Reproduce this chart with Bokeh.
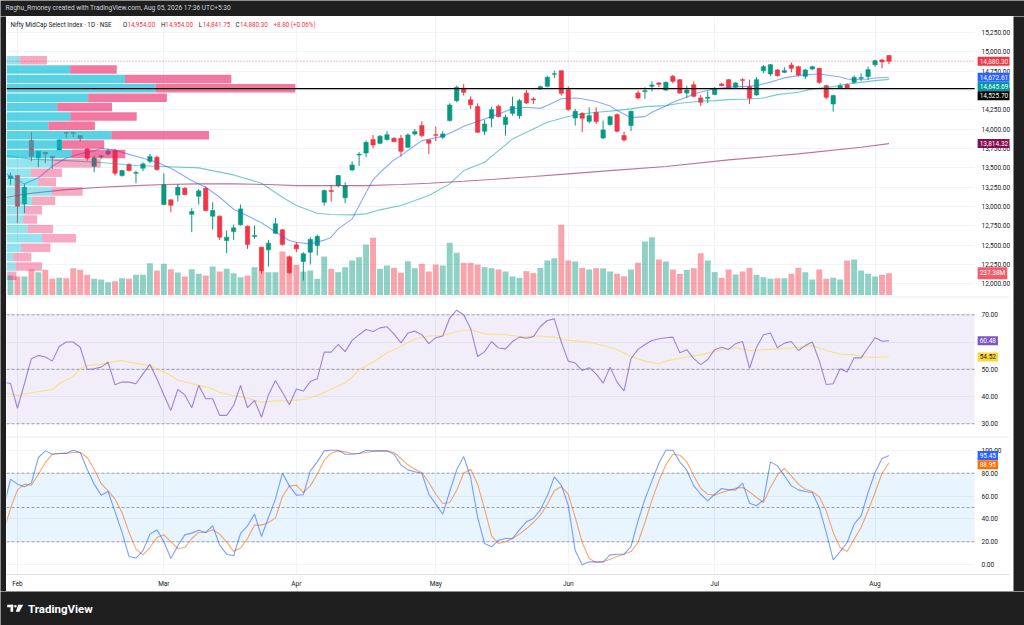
import numpy as np
from bokeh.plotting import figure
from bokeh.models import Range1d, FixedTicker, NumeralTickFormatter, Span, BoxAnnotation, Label
from bokeh.layouts import column, row
from bokeh.embed import file_html
from bokeh.resources import INLINE
from bokeh.core.properties import value

# ---------------- data ----------------
header_text = "Raghu_Rmoney created with TradingView.com, Aug 05, 2026 17:36 UTC+5:30"
title_text = "Nifty MidCap Select Index \u00b7 1D \u00b7 NSE"
month_index = [1, 22, 41, 61, 80, 101, 124]
month_labels = ["Feb", "Mar", "Apr", "May", "Jun", "Jul", "Aug"]
price_ticks = [12000, 12250, 12500, 12750, 13000, 13250, 13500, 13750, 14000, 14250, 14500, 14750, 15000, 15250]
rsi_ticks = [30, 40, 50, 60, 70]
stoch_ticks = [0, 20, 40, 60, 80, 100]

open_ = [13361, 13400, 13034, 13853, 13629, 13702, 13646, 13732, 13957, 13957,
         13918, 13745, 13521, 13646, 13680, 13724, 13400, 13543, 13430, 13495,
         13586, 13637, 13025, 13086, 13150, 13237, 12900, 13133, 13237, 12875,
         12875, 12560, 12676, 12763, 12745, 12612, 12474, 12439, 12655, 12698,
         12345, 12504, 12289, 12409, 12495, 13056, 13206, 13271, 13112, 13474,
         13668, 13693, 13866, 13818, 13866, 13883, 13883, 13767, 13939, 14047,
         13862, 13930, 13896, 14112, 14370, 14530, 14383, 14293, 13974, 14142,
         14297, 14060, 14206, 14176, 14469, 14392, 14521, 14555, 14711, 14758,
         14512, 14146, 14206, 14103, 14219, 13887, 14060, 14189, 13918, 14047,
         14469, 14487, 14555, 14599, 14508, 14685, 14642, 14469, 14577, 14405,
         14400, 14448, 14586, 14642, 14543, 14642, 14551, 14443, 14758, 14715,
         14767, 14737, 14831, 14810, 14685, 14780, 14788, 14564, 14327, 14534,
         14577, 14607, 14659, 14681, 14836, 14896, 14954]
high_ = [13439, 13409, 13293, 13961, 13715, 13705, 13650, 13870, 13960, 13960,
         13920, 13758, 13659, 13672, 13745, 13745, 13474, 13560, 13465, 13573,
         13680, 13659, 13430, 13090, 13293, 13249, 12978, 13228, 13262, 13056,
         12883, 12689, 12767, 13025, 12754, 12754, 12478, 12569, 12853, 12711,
         12366, 12539, 12409, 12603, 12638, 13219, 13280, 13409, 13314, 13586,
         13702, 13853, 13926, 13926, 13974, 13896, 13926, 13948, 14004, 14103,
         13874, 14034, 13974, 14336, 14564, 14586, 14426, 14336, 14124, 14293,
         14318, 14189, 14422, 14392, 14508, 14413, 14564, 14693, 14758, 14760,
         14555, 14262, 14219, 14284, 14284, 14112, 14176, 14206, 13969, 14241,
         14499, 14543, 14620, 14607, 14620, 14702, 14650, 14564, 14620, 14443,
         14491, 14543, 14599, 14650, 14607, 14659, 14642, 14672, 14831, 14844,
         14780, 14801, 14866, 14823, 14780, 14823, 14793, 14577, 14448, 14594,
         14594, 14693, 14724, 14810, 14900, 14909, 14954]
low_ = [13284, 12784, 12913, 13586, 13508, 13560, 13487, 13724, 13883, 13896,
        13840, 13594, 13443, 13616, 13659, 13400, 13387, 13456, 13301, 13456,
        13560, 13465, 13020, 12926, 13064, 13150, 12668, 13025, 12939, 12702,
        12569, 12396, 12569, 12754, 12452, 12582, 12129, 12224, 12646, 12495,
        12129, 12409, 12043, 12250, 12366, 13012, 13064, 13249, 13043, 13456,
        13525, 13637, 13754, 13810, 13853, 13831, 13646, 13758, 13918, 13896,
        13680, 13844, 13874, 14099, 14349, 14435, 14262, 13952, 13926, 14025,
        14155, 13918, 14176, 14133, 14327, 14327, 14508, 14543, 14663, 14435,
        14241, 14047, 13961, 14077, 14068, 13874, 14047, 13961, 13840, 13974,
        14383, 14392, 14491, 14543, 14491, 14594, 14456, 14405, 14413, 14297,
        14340, 14443, 14555, 14521, 14534, 14521, 14327, 14435, 14728, 14685,
        14681, 14728, 14737, 14681, 14650, 14767, 14586, 14392, 14228, 14521,
        14521, 14586, 14620, 14637, 14810, 14788, 14841.75]
close_ = [13396, 13004, 13249, 13650, 13711, 13680, 13629, 13862, 13948, 13948,
          13883, 13624, 13629, 13655, 13715, 13430, 13465, 13465, 13439, 13551,
          13646, 13478, 13280, 13017, 13249, 13155, 12935, 13202, 12948, 12948,
          12603, 12603, 12724, 12969, 12508, 12625, 12164, 12526, 12776, 12508,
          12142, 12452, 12388, 12573, 12612, 13206, 13193, 13400, 13271, 13538,
          13676, 13831, 13797, 13909, 13930, 13840, 13715, 13926, 13969, 13918,
          13818, 13922, 13939, 14314, 14543, 14478, 14318, 13961, 14068, 14254,
          14163, 14155, 14293, 14370, 14340, 14379, 14551, 14672, 14719, 14465,
          14254, 14232, 14142, 14176, 14099, 13991, 14163, 13974, 13862, 14232,
          14405, 14499, 14573, 14581, 14607, 14620, 14469, 14508, 14426, 14349,
          14413, 14530, 14564, 14530, 14599, 14633, 14400, 14642, 14810, 14836,
          14693, 14758, 14788, 14702, 14767, 14810, 14607, 14413, 14435, 14564,
          14530, 14672, 14668, 14771, 14887, 14871.5, 14880.3]
volume_m = [212, 202, 202, 278, 248, 274, 176, 187, 183, 292,
            274, 220, 176, 169, 140, 150, 183, 176, 220, 220,
            347, 267, 340, 281, 245, 202, 281, 231, 212, 310,
            256, 285, 238, 194, 212, 303, 256, 248, 248, 474,
            423, 329, 255, 267, 176, 419, 285, 249, 303, 376,
            412, 550, 623, 285, 321, 296, 242, 368, 292, 340,
            256, 332, 321, 568, 460, 351, 351, 332, 303, 292,
            278, 256, 202, 187, 260, 238, 296, 376, 401, 765,
            376, 365, 296, 278, 292, 290, 256, 231, 205, 278,
            351, 583, 630, 387, 365, 278, 231, 274, 292, 456,
            376, 249, 187, 278, 223, 256, 296, 220, 194, 176,
            183, 183, 231, 296, 249, 169, 278, 176, 187, 169,
            376, 387, 267, 231, 202, 220, 237.38]

# visible-range volume profile, rows from top (high) to bottom (low), millions
vp_up_m = [223, 1075, 1999, 2515, 1378, 857, 1075, 706, 1769, 936, 1092, 795,
           415, 533, 768, 432, 307, 281, 358, 600, 247, 113, 151, 22]
vp_down_m = [459, 785, 1793, 2357, 1327, 924, 1121, 785, 1646, 711, 912, 795,
             521, 302, 516, 391, 291, 235, 425, 571, 492, 307, 449, 146]

level_line = 14525.70

sma_fast_x = [-1, 2, 4, 6, 8, 10, 12, 13, 15, 17, 19, 21, 23, 24, 26, 28, 30, 32, 34, 36, 38,
              40, 41, 43, 45, 46, 47, 49, 50, 51, 52, 53, 55, 56, 58, 59, 60, 62, 64, 65, 67,
              68, 70, 72, 74, 76, 77, 79, 81, 82, 84, 86, 87, 89, 91, 92, 94, 95, 97, 98, 100,
              101, 102, 104, 105, 107, 109, 110, 111, 113, 114, 116, 117, 119, 120, 121, 123, 124, 126]
sma_fast_v = [13440, 13293, 13371, 13521, 13629, 13681, 13720, 13754, 13730, 13675, 13625, 13573, 13495, 13443, 13336,
              13249, 13120, 12965, 12880, 12790, 12670, 12560, 12538, 12517, 12565, 12603, 12711, 12840, 13011, 13180,
              13345, 13440, 13603, 13659, 13790, 13853, 13870, 13910, 13990, 14040, 14100, 14133, 14198, 14265, 14284,
              14270, 14306, 14395, 14405, 14395, 14360, 14300, 14241, 14150, 14163, 14219, 14300, 14349, 14415, 14456,
              14505, 14521, 14534, 14551, 14551, 14564, 14610, 14638, 14665, 14694, 14705, 14715, 14702, 14675, 14651,
              14640, 14651, 14664, 14672.61]
sma_slow_x = [-1, 3, 8, 13, 18, 22, 27, 32, 36, 39, 41, 44, 46, 49, 51, 53, 56, 58, 60, 63, 65, 68, 70, 72,
              75, 77, 80, 82, 84, 86, 89, 91, 94, 96, 99, 101, 103, 106, 108, 110, 113, 115, 118, 120, 122, 124, 126]
sma_slow_v = [13665, 13612, 13594, 13569, 13530, 13517, 13500, 13409, 13301, 13120, 13012, 12913, 12896, 12892,
              12905, 12957, 13013, 13077, 13142, 13293, 13465, 13573, 13724, 13875, 14004, 14090, 14164, 14198,
              14219, 14235, 14263, 14293, 14306, 14336, 14362, 14370, 14383, 14392, 14405, 14448, 14478, 14521,
              14551, 14586, 14607, 14629, 14645.69]
sma200_x = [-1, 3, 8, 13, 18, 22, 27, 32, 37, 41, 51, 56, 60, 65, 70, 75, 80, 86, 94, 103, 113, 122, 126]
sma200_v = [13115, 13172, 13219, 13250, 13271, 13284, 13293, 13293, 13284, 13271, 13271, 13284, 13301, 13327,
            13357, 13388, 13422, 13465, 13517, 13603, 13681, 13767, 13814.32]

rsi_v = [45.2, 44.8, 35.7, 44.7, 53.9, 55.1, 54.5, 53.0, 58.4, 60.0, 60.0,
         58.1, 49.9, 50.2, 50.8, 52.6, 44.3, 45.3, 45.3, 44.7, 48.3,
         51.8, 46.5, 40.6, 34.9, 42.6, 40.6, 35.9, 44.1, 39.2, 39.2,
         33.1, 33.1, 36.7, 44.1, 35.9, 38.6, 32.4, 40.6, 45.9, 41.6,
         37.0, 42.8, 42.0, 45.5, 46.5, 56.3, 56.3, 59.1, 56.5, 60.6,
         62.7, 64.6, 63.9, 65.2, 65.6, 63.0, 59.7, 63.3, 64.0, 62.7,
         59.4, 61.6, 62.2, 68.8, 71.7, 70.0, 64.9, 54.7, 56.5, 60.2,
         57.8, 57.5, 60.2, 61.8, 61.4, 62.0, 65.7, 67.9, 68.5, 60.0,
         53.0, 52.3, 49.6, 50.6, 48.3, 44.9, 50.8, 45.3, 42.1, 53.9,
         57.3, 59.1, 60.6, 61.2, 61.6, 61.8, 56.1, 57.2, 53.9, 51.7,
         53.6, 57.2, 58.1, 57.3, 59.4, 60.2, 50.4, 58.1, 62.7, 63.3,
         57.9, 59.6, 60.2, 56.9, 58.7, 60.0, 53.2, 44.4, 44.7, 50.2,
         49.0, 54.2, 54.2, 57.9, 61.6, 60.3, 60.48]
rsi_ma_x = [-1, 1, 3, 6, 7, 9, 10, 11, 13, 14, 16, 17, 19, 20, 21, 23, 24, 26, 27, 29, 30, 32, 34, 36, 38,
            40, 42, 44, 46, 48, 49, 50, 52, 54, 56, 58, 60, 62, 64, 66, 68, 71, 73, 76, 78, 80, 83, 85, 87,
            89, 91, 93, 94, 97, 99, 102, 104, 106, 109, 112, 115, 117, 119, 121, 123, 126]
rsi_ma_v = [41.5, 40.4, 41.4, 42.6, 44.7, 47.4, 50.2, 51.4, 51.8, 52.6, 53.2, 52.6, 51.8, 51.4, 50.2, 47.7,
            46.1, 44.7, 44.1, 42.8, 41.6, 40.4, 39.4, 37.9, 38.4, 38.5, 38.9, 40.4, 42.8, 45.0, 47.1, 49.9,
            52.6, 56.1, 58.5, 61.2, 62.2, 62.4, 63.9, 64.5, 63.0, 62.7, 62.0, 62.2, 61.8, 60.6, 60.0, 58.7,
            57.3, 54.7, 53.0, 52.0, 53.0, 54.5, 55.3, 57.3, 57.9, 56.9, 57.3, 57.8, 58.7, 56.9, 55.6, 55.3,
            54.4, 54.52]
stoch_k = [49, 74.8, 70.4, 68.1, 71.3, 93.7, 99.5, 96.6, 97.2, 97.5, 100,
           98.1, 83.5, 70.4, 60.8, 64.0, 46.2, 28.2, 7.2, 5.8, 12.2,
           26.7, 30.5, 20.3, 5.4, 16.5, 26.1, 27.6, 30.2, 28.2, 34.0,
           17.1, 9.2, 7.8, 27.3, 34.0, 44.2, 24.7, 41.3, 57.3, 80.0,
           68.9, 60.8, 61.1, 82.0, 89.9, 99.5, 100, 100, 96.6, 96.6,
           97.2, 100, 99.5, 99.5, 99.5, 96.6, 87.3, 82.9, 81.2, 80.0,
           61.6, 52.9, 44.2, 64.0, 83.0, 94.6, 76.2, 41.3, 18.5, 15.6,
           21.4, 22.9, 22.9, 30.5, 37.5, 40.4, 48.0, 60.2, 76.8, 69.5,
           52.0, 12.1, 0.0, 2.5, 2.5, 2.5, 8.6, 9.2, 9.2, 15.9,
           38.3, 57.3, 73.3, 88.7, 100, 100, 89.9, 82.6, 68.9, 61.6,
           55.8, 61.6, 66.6, 65.4, 65.4, 71.3, 53.8, 51.5, 56.4, 89.9,
           86.4, 77.7, 68.9, 65.4, 64.0, 63.1, 50.0, 28.2, 4.3, 11.5,
           19.4, 35.4, 42.7, 63.1, 80.6, 92.8, 95.45]
stoch_d = [29, 49.1, 65.4, 70.4, 69.5, 79.1, 89.3, 96.6, 97.2, 97.2, 98.1,
           98.1, 93.7, 83.5, 71.0, 64.6, 57.3, 45.6, 28.2, 13.6, 8.6,
           15.0, 23.8, 26.1, 20.0, 14.2, 15.0, 22.9, 28.2, 28.2, 30.5,
           26.7, 20.0, 11.5, 14.5, 22.9, 34.6, 34.6, 36.9, 40.7, 59.6,
           68.9, 69.5, 63.1, 68.9, 79.1, 91.4, 97.5, 99.5, 98.6, 97.2,
           97.2, 98.1, 98.9, 99.5, 99.5, 98.1, 92.8, 87.3, 83.5, 80.6,
           71.8, 61.6, 53.5, 54.4, 65.0, 80.0, 83.5, 70.4, 48.5, 25.2,
           18.5, 20.0, 22.9, 26.7, 31.6, 36.9, 43.3, 52.9, 64.6, 68.3,
           61.6, 41.3, 19.4, 5.4, 1.9, 2.5, 4.8, 7.2, 9.2, 11.5,
           19.4, 36.9, 56.4, 73.3, 87.3, 96.6, 95.7, 89.9, 77.7, 66.6,
           61.6, 60.8, 63.1, 65.1, 66.9, 67.5, 63.7, 58.7, 54.4, 67.5,
           78.5, 84.1, 77.7, 70.4, 66.0, 64.0, 59.3, 47.1, 28.2, 15.0,
           11.5, 22.3, 32.5, 47.1, 63.1, 79.7, 88.95]

# ---------------- styling / layout ----------------
FONT = "Roboto"
DARK = "#1f1f1f"
TXT = "#131722"
GRID = "#f0f3fa"
UPC = "#089981"
DNC = "#f23645"
W_ALL = 1024
W_LEFT, W_RIGHT = 6, 11
W = W_ALL - W_LEFT - W_RIGHT      # pane width (chart + price scale)
BAR_PX = 7.0


def page_to_idx(px):
    return (px - 10.0) / BAR_PX


X0 = page_to_idx(W_LEFT)
X1 = X0 + W / BAR_PX
XE = page_to_idx(978)        # right edge of the chart area (price scale starts)
XT = page_to_idx(981)        # anchor for value tags
xr = Range1d(X0, X1)
BOX_PX = 9.3
STANDOFF = -28

H_HEAD, H_P, H_R, H_S, H_F = 16, 280, 140, 155, 34
PPX = 12.94
P_TOP = 12000 + (283.3 - 16) * PPX
P_BOT = P_TOP - H_P * PPX
VPX = 10.893
V_TOP = (294.5 - 16) * VPX
V_BOT = V_TOP - H_P * VPX
RPX = 1 / 2.725
R_TOP = 70 + (314.3 - 296) * RPX
R_BOT = R_TOP - H_R * RPX
SPX = 1 / 1.144
S_TOP = 100 + (449.8 - 436) * SPX
S_BOT = S_TOP - 138 * SPX


def style_axis(ax, ticks, fmt="0.00"):
    ax.ticker = FixedTicker(ticks=ticks)
    ax.formatter = NumeralTickFormatter(format=fmt)
    ax.axis_line_color = None
    ax.major_tick_line_color = None
    ax.minor_tick_line_color = None
    ax.major_tick_out = 0
    ax.major_tick_in = 0
    ax.major_label_text_font = FONT
    ax.major_label_text_font_size = "6.5px"
    ax.major_label_text_color = TXT
    ax.major_label_standoff = STANDOFF


def pane(h, yrange, bottom=0, xaxis=False):
    p = figure(width=W, height=h, x_range=xr, y_range=yrange, output_backend="svg",
               toolbar_location=None, x_axis_location="below" if xaxis else None,
               y_axis_location="right", min_border_left=0, min_border_right=0,
               min_border_top=0, min_border_bottom=bottom, outline_line_color=None,
               background_fill_color="white", border_fill_color="white")
    p.ygrid.grid_line_color = GRID
    p.xgrid.grid_line_color = GRID
    p.xgrid.ticker = FixedTicker(ticks=month_index)
    return p


def cover_scale(p):
    # keep grid lines and bands out of the price-scale strip
    p.add_layout(BoxAnnotation(left=XE, fill_color="white", fill_alpha=1.0, line_color=None, level="underlay"))


def hline(p, y, **kw):
    p.line([X0, XE], [y, y], **kw)


def add_tags(p, tags):
    items = []
    for v, txt, bg, fg, top, upp, yrn in tags:
        items.append([(top - v) / upp, txt, bg, fg, top, upp, yrn])
    items.sort(key=lambda t: t[0])
    last = -1e9
    for it in items:
        if it[0] < last + BOX_PX:
            it[0] = last + BOX_PX
        last = it[0]
        y = it[4] - it[0] * it[5]
        p.add_layout(Label(x=XT, y=y, y_range_name=it[6], text=it[1], text_font=FONT,
                           text_font_size="6.5px", text_color=it[3], text_align="left",
                           text_baseline="middle", background_fill_color=it[2], padding=2))


def dark_box(w, h):
    f = figure(width=w, height=h, x_range=Range1d(0, w), y_range=Range1d(0, h),
               output_backend="svg", toolbar_location=None, x_axis_location=None, y_axis_location=None,
               min_border=0, outline_line_color=None, background_fill_color=DARK, border_fill_color=DARK)
    f.grid.visible = False
    return f


# ---------------- header ----------------
head = dark_box(W_ALL, H_HEAD)
head.text(x=[5], y=[H_HEAD - 7.5], text=[header_text], text_font=value(FONT), text_font_size="6.6px",
          text_baseline="middle", text_color="#d1d4dc")

# ---------------- price pane ----------------
pp = pane(H_P, Range1d(P_BOT, P_TOP))
style_axis(pp.yaxis[0], price_ticks, "0,0.00")
cover_scale(pp)
pp.extra_y_ranges = {"vol": Range1d(V_BOT, V_TOP)}

idx = list(range(len(close_)))
is_up = [c >= o for o, c in zip(open_, close_)]
cols = [UPC if u else DNC for u in is_up]

pp.vbar(x=idx, top=volume_m, bottom=0, width=0.85, y_range_name="vol",
        fill_color=cols, fill_alpha=0.45, line_color=None)
pp.segment(x0=idx, y0=low_, x1=idx, y1=high_, line_color=cols, line_width=1)
pp.vbar(x=idx, top=[max(o, c) for o, c in zip(open_, close_)],
        bottom=[min(o, c) for o, c in zip(open_, close_)], width=0.62,
        fill_color=cols, line_color=cols, line_width=0.6)

pp.line(sma200_x, sma200_v, line_color="#9c2765", line_alpha=0.65, line_width=1.1)
pp.line(sma_slow_x, sma_slow_v, line_color="#00a0a0", line_alpha=0.55, line_width=1.1)
pp.line(sma_fast_x, sma_fast_v, line_color="#2962ff", line_alpha=0.55, line_width=1.1)

# visible range volume profile
n_rows = len(vp_up_m)
lo, hi = min(low_), max(high_)
row_h = (hi - lo) / n_rows
up_b = vp_up_m[::-1]
dn_b = vp_down_m[::-1]
centers = [lo + (k + 0.5) * row_h for k in range(n_rows)]
tot = [u + d for u, d in zip(up_b, dn_b)]
poc = tot.index(max(tot))
a = b = poc
acc = tot[poc]
target = 0.695 * sum(tot)
while acc < target:
    nu = tot[b + 1] if b + 1 < n_rows else -1
    nd = tot[a - 1] if a - 1 >= 0 else -1
    if nu >= nd:
        b += 1
        acc += nu
    else:
        a -= 1
        acc += nd
in_va = [a <= k <= b for k in range(n_rows)]
pp.extra_x_ranges = {"vp": Range1d(0, max(tot) * W / 290.0)}
pp.hbar(y=centers, left=0, right=up_b, height=row_h * 0.9, x_range_name="vp",
        fill_color="#00bcd4", fill_alpha=[0.65 if v else 0.42 for v in in_va], line_color=None)
pp.hbar(y=centers, left=up_b, right=tot, height=row_h * 0.9, x_range_name="vp",
        fill_color="#e91e63", fill_alpha=[0.6 if v else 0.38 for v in in_va], line_color=None)

hline(pp, level_line, line_color="#000000", line_width=1.4)
hline(pp, close_[-1], line_color=DNC, line_alpha=0.7, line_width=1, line_dash="1 2")

# legend line
chg = close_[-1] - close_[-2]
pct = chg / close_[-2] * 100
leg_y = P_TOP - 8 * PPX
leg = [(10, title_text, TXT), (123, "O", TXT), (127.5, f"{open_[-1]:,.2f}", DNC),
       (161, "H", TXT), (165.5, f"{high_[-1]:,.2f}", DNC), (199, "L", TXT),
       (203, f"{low_[-1]:,.2f}", DNC), (236, "C", TXT), (240.5, f"{close_[-1]:,.2f}", DNC),
       (274, f"{chg:+.2f} ({pct:+.2f}%)", DNC)]
pp.text(x=[page_to_idx(l[0]) for l in leg], y=[leg_y] * len(leg), text=[l[1] for l in leg],
        text_color=[l[2] for l in leg], text_font=value(FONT), text_font_size="6.3px",
        text_baseline="middle", text_align="left")

add_tags(pp, [
    (close_[-1], f"{close_[-1]:,.2f}", DNC, "white", P_TOP, PPX, "default"),
    (sma_fast_v[-1], f"{sma_fast_v[-1]:,.2f}", "#2962ff", "white", P_TOP, PPX, "default"),
    (sma_slow_v[-1], f"{sma_slow_v[-1]:,.2f}", "#00979d", "white", P_TOP, PPX, "default"),
    (level_line, f"{level_line:,.2f}", "#000000", "white", P_TOP, PPX, "default"),
    (sma200_v[-1], f"{sma200_v[-1]:,.2f}", "#880e4f", "white", P_TOP, PPX, "default"),
    (volume_m[-1], f"{volume_m[-1]:.2f}M", "#f45b69", "white", V_TOP, VPX, "vol"),
])

# ---------------- RSI pane ----------------
rx = list(range(-1, len(rsi_v) - 1))
rp = pane(H_R, Range1d(R_BOT, R_TOP))
style_axis(rp.yaxis[0], rsi_ticks)
rp.add_layout(BoxAnnotation(bottom=30, top=70, fill_color="#7e57c2", fill_alpha=0.1,
                            line_color=None, level="underlay"))
cover_scale(rp)
rp.add_layout(Span(location=R_TOP - 0.4 * RPX, dimension="width", line_color="#e0e3eb", line_width=1))
for lv in (30, 50, 70):
    hline(rp, lv, line_color="#787b86", line_alpha=0.7, line_width=1, line_dash="3 2")
rp.line(rsi_ma_x, rsi_ma_v, line_color="#fdd835", line_alpha=0.6, line_width=1.1)
rp.line(rx, rsi_v, line_color="#7e57c2", line_alpha=0.7, line_width=1.1)
add_tags(rp, [
    (rsi_v[-1], f"{rsi_v[-1]:.2f}", "#7e57c2", "white", R_TOP, RPX, "default"),
    (rsi_ma_v[-1], f"{rsi_ma_v[-1]:.2f}", "#fdd835", TXT, R_TOP, RPX, "default"),
])

# ---------------- Stochastic pane ----------------
sp = pane(H_S, Range1d(S_BOT, S_TOP), bottom=17, xaxis=True)
style_axis(sp.yaxis[0], stoch_ticks)
xa = sp.xaxis[0]
xa.ticker = FixedTicker(ticks=month_index)
xa.major_label_overrides = {m: lab for m, lab in zip(month_index, month_labels)}
xa.axis_line_color = "#e0e3eb"
xa.major_tick_line_color = None
xa.minor_tick_line_color = None
xa.major_tick_out = 0
xa.major_tick_in = 0
xa.major_label_text_font = FONT
xa.major_label_text_font_size = "6.5px"
xa.major_label_text_color = TXT
xa.major_label_standoff = 5
sp.add_layout(BoxAnnotation(bottom=20, top=80, fill_color="#2196f3", fill_alpha=0.1,
                            line_color=None, level="underlay"))
cover_scale(sp)
sp.add_layout(Span(location=S_TOP - 0.4 * SPX, dimension="width", line_color="#e0e3eb", line_width=1))
for lv in (20, 50, 80):
    hline(sp, lv, line_color="#787b86", line_alpha=0.7, line_width=1, line_dash="3 2")
sx = list(range(-1, len(stoch_k) - 1))
sp.line(sx, stoch_d, line_color="#ff6d00", line_alpha=0.6, line_width=1.1)
sp.line(sx, stoch_k, line_color="#2962ff", line_alpha=0.6, line_width=1.1)
add_tags(sp, [
    (stoch_k[-1], f"{stoch_k[-1]:.2f}", "#2962ff", "white", S_TOP, SPX, "default"),
    (stoch_d[-1], f"{stoch_d[-1]:.2f}", "#ff6d00", "white", S_TOP, SPX, "default"),
])

# ---------------- side frame + footer ----------------
H_BODY = H_P + H_R + H_S
left_strip = dark_box(W_LEFT, H_BODY)
right_strip = dark_box(W_RIGHT, H_BODY)

ft = dark_box(W_ALL, H_F)
ft.quad(left=[6.7, 10.0], right=[12.7, 12.7], bottom=[18.3, 13.7], top=[20.7, 20.7],
        fill_color="white", line_color=None)
ft.circle(x=[14.9], y=[19.3], radius=1.3, fill_color="white", line_color=None)
ft.patch([17.7, 22.7, 18.9, 15.3], [20.7, 20.7, 13.7, 13.7], fill_color="white", line_color=None)
ft.text(x=[27.5], y=[17.0], text=["TradingView"], text_font=value(FONT), text_font_size="11.5px",
        text_font_style="bold", text_baseline="middle", text_color="white")

body = row(left_strip, column(pp, rp, sp, spacing=0), right_strip, spacing=0)
layout = column(head, body, ft, spacing=0)
open("out.html", "w").write(file_html(layout, INLINE))
